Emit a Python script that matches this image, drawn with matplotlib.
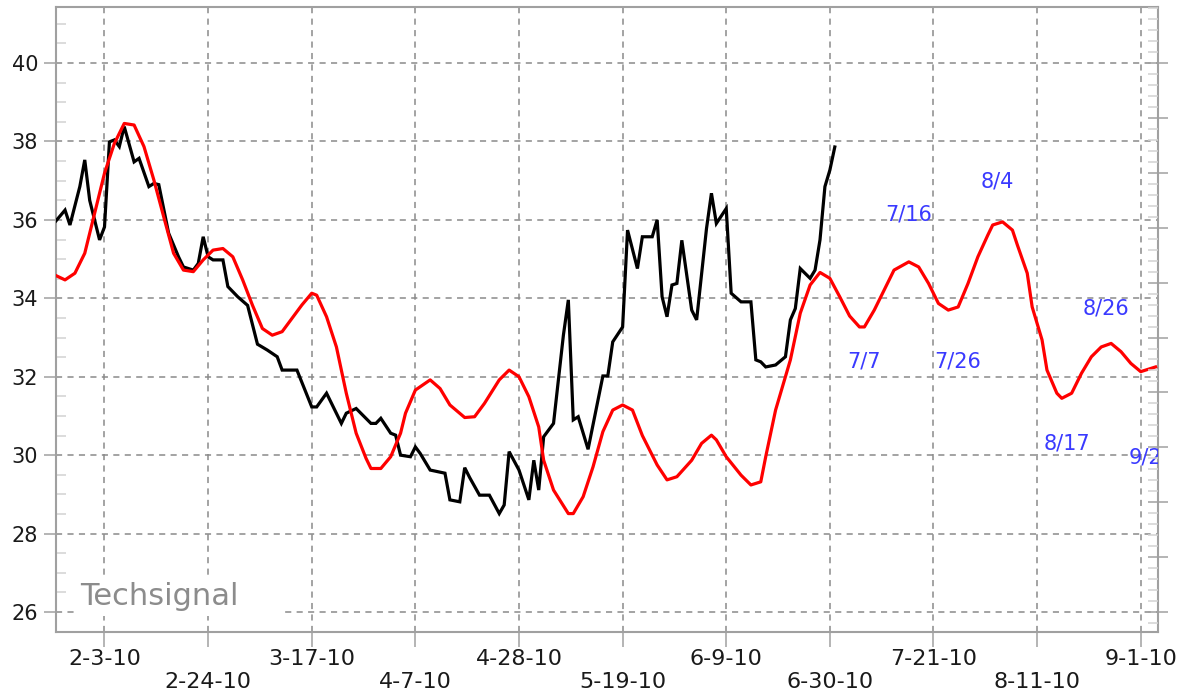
import matplotlib
matplotlib.use("Agg")
import matplotlib.pyplot as plt
import matplotlib.dates as mdates
from matplotlib.ticker import MultipleLocator, FixedLocator
from matplotlib.patches import Rectangle
import pandas as pd

# ---------------- data ----------------
price_dates = ["2010-01-24","2010-01-26","2010-01-27","2010-01-29","2010-01-30","2010-01-31","2010-02-02","2010-02-03",
               "2010-02-04","2010-02-05","2010-02-06","2010-02-07","2010-02-09","2010-02-10","2010-02-12","2010-02-13",
               "2010-02-14","2010-02-16","2010-02-18","2010-02-19","2010-02-21","2010-02-22","2010-02-23","2010-02-24",
               "2010-02-25","2010-02-27","2010-02-28","2010-03-02","2010-03-04","2010-03-06","2010-03-08","2010-03-10",
               "2010-03-11","2010-03-14","2010-03-17","2010-03-18","2010-03-20","2010-03-23","2010-03-24","2010-03-26",
               "2010-03-29","2010-03-30","2010-03-31","2010-04-02","2010-04-03","2010-04-04","2010-04-06","2010-04-07",
               "2010-04-08","2010-04-10","2010-04-13","2010-04-14","2010-04-16","2010-04-17","2010-04-18","2010-04-20",
               "2010-04-22","2010-04-24","2010-04-25","2010-04-26","2010-04-28","2010-04-30","2010-05-01","2010-05-02",
               "2010-05-03","2010-05-05","2010-05-07","2010-05-08","2010-05-09","2010-05-10","2010-05-12","2010-05-15",
               "2010-05-16","2010-05-17","2010-05-19","2010-05-20","2010-05-22","2010-05-23","2010-05-25","2010-05-26",
               "2010-05-27","2010-05-28","2010-05-29","2010-05-30","2010-05-31","2010-06-02","2010-06-03","2010-06-05",
               "2010-06-06","2010-06-07","2010-06-09","2010-06-10","2010-06-12","2010-06-14","2010-06-15","2010-06-16",
               "2010-06-17","2010-06-19","2010-06-21","2010-06-22","2010-06-23","2010-06-24","2010-06-26","2010-06-27",
               "2010-06-28","2010-06-29","2010-06-30","2010-07-01"]
price_values = [35.95, 36.25, 35.87, 36.85, 37.53, 36.5, 35.49, 35.82,
                37.99, 38.04, 37.87, 38.38, 37.48, 37.57, 36.85, 36.93,
                36.9, 35.66, 35.06, 34.8, 34.72, 34.89, 35.57, 35.06,
                34.98, 34.98, 34.3, 34.04, 33.82, 32.83, 32.68, 32.51,
                32.17, 32.17, 31.23, 31.23, 31.58, 30.81, 31.07, 31.19,
                30.81, 30.81, 30.94, 30.56, 30.51, 30.0, 29.96, 30.21,
                30.04, 29.62, 29.54, 28.86, 28.81, 29.68, 29.43, 28.98,
                28.98, 28.51, 28.73, 30.09, 29.62, 28.86, 29.87, 29.11,
                30.47, 30.81, 33.06, 33.96, 30.9, 30.98, 30.15, 32.02,
                32.02, 32.89, 33.27, 35.74, 34.76, 35.57, 35.57, 36.0,
                34.04, 33.53, 34.34, 34.38, 35.48, 33.70, 33.45, 35.78,
                36.68, 35.91, 36.29, 34.13, 33.91, 33.91, 32.43, 32.38,
                32.25, 32.30, 32.51, 33.45, 33.74, 34.76, 34.51, 34.72,
                35.49, 36.85, 37.27, 37.86]

cycle_dates = ["2010-01-24","2010-01-26","2010-01-28","2010-01-30","2010-02-01","2010-02-03","2010-02-05","2010-02-07",
               "2010-02-09","2010-02-11","2010-02-13","2010-02-15","2010-02-17","2010-02-19","2010-02-21","2010-02-23",
               "2010-02-25","2010-02-27","2010-03-01","2010-03-03","2010-03-05","2010-03-07","2010-03-09","2010-03-11",
               "2010-03-13","2010-03-15","2010-03-17","2010-03-18","2010-03-20","2010-03-22","2010-03-24","2010-03-26",
               "2010-03-28","2010-03-29","2010-03-31","2010-04-02","2010-04-04","2010-04-05","2010-04-07","2010-04-10",
               "2010-04-12","2010-04-14","2010-04-17","2010-04-19","2010-04-21","2010-04-24","2010-04-26","2010-04-28",
               "2010-04-30","2010-05-02","2010-05-03","2010-05-05","2010-05-08","2010-05-09","2010-05-11","2010-05-13",
               "2010-05-15","2010-05-17","2010-05-19","2010-05-21","2010-05-23","2010-05-26","2010-05-28","2010-05-30",
               "2010-06-02","2010-06-04","2010-06-06","2010-06-07","2010-06-09","2010-06-12","2010-06-14","2010-06-16",
               "2010-06-17","2010-06-19","2010-06-22","2010-06-24","2010-06-26","2010-06-28","2010-06-30","2010-07-02",
               "2010-07-04","2010-07-06","2010-07-07","2010-07-09","2010-07-11","2010-07-13","2010-07-16","2010-07-18",
               "2010-07-20","2010-07-22","2010-07-24","2010-07-26","2010-07-28","2010-07-30","2010-08-01","2010-08-02",
               "2010-08-04","2010-08-06","2010-08-07","2010-08-09","2010-08-10","2010-08-12","2010-08-13","2010-08-15",
               "2010-08-16","2010-08-18","2010-08-20","2010-08-22","2010-08-24","2010-08-26","2010-08-28","2010-08-30",
               "2010-09-01","2010-09-02","2010-09-04"]
cycle_values = [34.59, 34.47, 34.64, 35.15, 36.17, 37.19, 37.95, 38.46,
                38.42, 37.87, 37.02, 36.08, 35.15, 34.72, 34.68, 34.98,
                35.23, 35.27, 35.06, 34.47, 33.82, 33.23, 33.06, 33.15,
                33.49, 33.83, 34.13, 34.08, 33.53, 32.76, 31.58, 30.56,
                29.92, 29.66, 29.66, 29.96, 30.56, 31.07, 31.66, 31.92,
                31.70, 31.28, 30.96, 30.98, 31.32, 31.92, 32.17, 32.0,
                31.49, 30.72, 29.87, 29.11, 28.51, 28.51, 28.94, 29.70,
                30.60, 31.15, 31.28, 31.15, 30.5, 29.75, 29.37, 29.45,
                29.87, 30.30, 30.51, 30.39, 29.96, 29.49, 29.24, 29.32,
                29.96, 31.15, 32.43, 33.62, 34.34, 34.66, 34.51, 34.04,
                33.55, 33.27, 33.27, 33.70, 34.21, 34.72, 34.93, 34.80,
                34.38, 33.87, 33.70, 33.78, 34.38, 35.06, 35.61, 35.87,
                35.95, 35.74, 35.36, 34.64, 33.78, 32.94, 32.17, 31.58,
                31.45, 31.58, 32.09, 32.51, 32.76, 32.85, 32.64, 32.34,
                32.13, 32.17, 32.25]

tick_dates = ["2010-02-03", "2010-02-24", "2010-03-17", "2010-04-07", "2010-04-28", "2010-05-19",
              "2010-06-09", "2010-06-30", "2010-07-21", "2010-08-11", "2010-09-01"]
tick_labels = ["2-3-10", "2-24-10", "3-17-10", "4-7-10", "4-28-10", "5-19-10",
               "6-9-10", "6-30-10", "7-21-10", "8-11-10", "9-1-10"]

turn_labels = ["7/7", "7/16", "7/26", "8/4", "8/17", "8/26", "9/2"]
turn_dates = ["2010-07-07", "2010-07-16", "2010-07-26", "2010-08-03", "2010-08-17", "2010-08-25", "2010-09-02"]
turn_label_y = [32.40, 36.15, 32.40, 36.97, 30.31, 33.73, 29.95]

y_ticks = [26, 28, 30, 32, 34, 36, 38, 40]
watermark = "Techsignal"

# ---------------- figure ----------------
W, H = 1188, 700
fig = plt.figure(figsize=(W / 100, H / 100), dpi=100)
L, R, T, B = 55.5, 1158, 7, 632
ax = fig.add_axes([L / W, 1 - B / H, (R - L) / W, (B - T) / H])

grid_c = "#8a8a8a"
spine_c = "#a0a0a0"
minor_c = "#d2d2d2"
text_c = "#1a1a1a"

pdates = pd.to_datetime(price_dates)
cdates = pd.to_datetime(cycle_dates)
tdates = pd.to_datetime(tick_dates)

ax.plot(pdates, price_values, color="black", lw=2.3, zorder=3, solid_joinstyle="miter")
ax.plot(cdates, cycle_values, color="#ff0000", lw=2.3, zorder=4)

base = mdates.date2num(pd.Timestamp("2010-02-03"))
ax.set_xlim(base - 9.93, base + 213.5)
ax.set_ylim(25.49, 41.43)

# x ticks: staggered in two rows
major_idx = list(range(0, len(tick_dates), 2))
minor_idx = list(range(1, len(tick_dates), 2))
ax.xaxis.set_major_locator(FixedLocator([mdates.date2num(tdates[i]) for i in major_idx]))
ax.xaxis.set_minor_locator(FixedLocator([mdates.date2num(tdates[i]) for i in minor_idx]))
ax.set_xticklabels([tick_labels[i] for i in major_idx])
ax.set_xticklabels([tick_labels[i] for i in minor_idx], minor=True)
ax.tick_params(axis="x", which="major", direction="out", length=10.5, width=1.1, color=spine_c,
               pad=1.5, labelsize=16, labelcolor=text_c)
ax.tick_params(axis="x", which="minor", direction="out", length=10.5, width=1.1, color=spine_c,
               pad=18.3, labelsize=16, labelcolor=text_c)

# y ticks
ax.set_yticks(y_ticks)
ax.set_yticklabels([str(v) for v in y_ticks])
ax.yaxis.set_minor_locator(MultipleLocator(0.5))
ax.tick_params(axis="y", which="major", direction="out", length=8.5, width=1.1, color=spine_c,
               pad=4, labelsize=15, labelcolor=text_c)
ax.tick_params(axis="y", which="minor", direction="in", length=7, width=1.1, color=minor_c)

ax.set_axisbelow(True)
ax.xaxis.grid(True, which="both", color=grid_c, lw=1.1, linestyle=(0, (4, 3.5)))
ax.yaxis.grid(True, which="major", color=grid_c, lw=1.1, linestyle=(0, (4, 3.5)))

for s in ax.spines.values():
    s.set_color(spine_c)
    s.set_linewidth(1.5)

# right axis with its own scale (labels fall outside the picture)
ax2 = ax.twinx()
ax2.set_ylim((25.49 - 26) / 1.4, (41.43 - 26) / 1.4)
ax2.set_yticks(range(0, 11))
ax2.yaxis.set_minor_locator(MultipleLocator(0.2))
ax2.tick_params(axis="y", which="major", direction="inout", length=14, width=1.1, color=spine_c,
                labelright=False)
ax2.tick_params(axis="y", which="minor", direction="in", length=7, width=1.1, color=minor_c)
for s in ax2.spines.values():
    s.set_visible(False)

# watermark with white backing
ax.add_patch(Rectangle((0.0177, 0.0256), 0.186, 0.0656, transform=ax.transAxes,
                       facecolor="white", edgecolor="none", zorder=1))
ax.text(0.0222, 0.0432, watermark, transform=ax.transAxes, fontsize=22, color="#8c8c8c",
        ha="left", va="baseline", zorder=2)

# turning-point date labels
for lab, d, yv in zip(turn_labels, pd.to_datetime(turn_dates), turn_label_y):
    ax.text(d, yv, lab, fontsize=15, color="#3a3aff", ha="center", va="center",
            clip_on=True, zorder=5)

fig.savefig("out.png", dpi=100)
